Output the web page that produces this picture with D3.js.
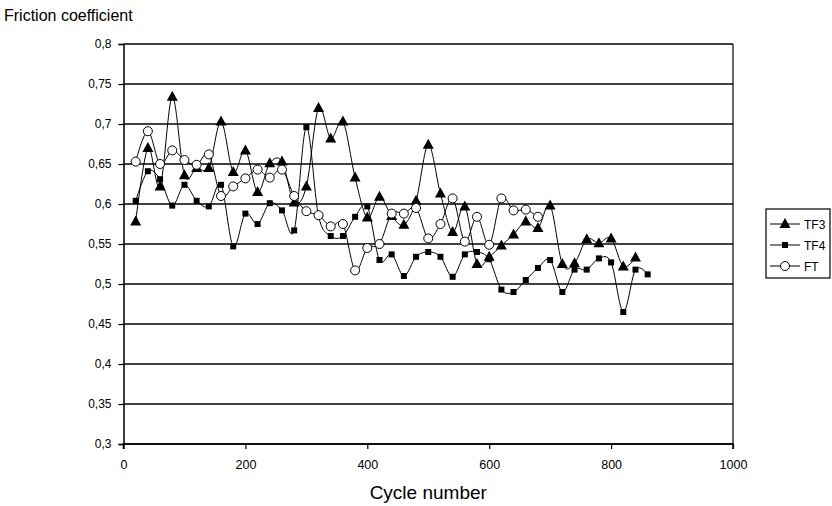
<!DOCTYPE html>
<html>
<head>
<meta charset="utf-8">
<script src="https://cdn.jsdelivr.net/npm/d3@7"></script>
<style>
    body { margin: 0; background: #fff; }
    svg { font-family: "Liberation Sans", Arial, sans-serif; }
</style>
</head>
<body>
<svg id="chart" width="832" height="506"></svg>
<script>

// cycle numbers, one point every 20 cycles
const cyclesTF3 = d3.range(20, 841, 20);
const cyclesTF4 = d3.range(20, 861, 20);
const cyclesFT = d3.range(20, 681, 20);

const valuesTF3 = [
    0.578, 0.670, 0.622, 0.734, 0.636, 0.645, 0.645, 0.703, 0.640, 0.667,
    0.615, 0.651, 0.653, 0.602, 0.622, 0.720, 0.682, 0.703, 0.633, 0.583,
    0.609, 0.585, 0.574, 0.604, 0.674, 0.613, 0.565, 0.597, 0.525, 0.534,
    0.548, 0.562, 0.578, 0.570, 0.598, 0.525, 0.526, 0.556, 0.551, 0.557,
    0.522, 0.533
];
const valuesTF4 = [
    0.604, 0.641, 0.631, 0.598, 0.624, 0.604, 0.597, 0.624, 0.547, 0.588,
    0.575, 0.601, 0.592, 0.567, 0.696, 0.585, 0.560, 0.560, 0.584, 0.597,
    0.530, 0.537, 0.510, 0.534, 0.540, 0.534, 0.509, 0.537, 0.540, 0.531,
    0.493, 0.490, 0.505, 0.520, 0.530, 0.490, 0.518, 0.518, 0.532, 0.527,
    0.465, 0.518, 0.512
];
const valuesFT = [
    0.653, 0.691, 0.650, 0.667, 0.655, 0.649, 0.662, 0.610, 0.622, 0.632,
    0.643, 0.633, 0.643, 0.610, 0.591, 0.586, 0.572, 0.575, 0.517, 0.545,
    0.550, 0.588, 0.588, 0.595, 0.557, 0.575, 0.607, 0.553, 0.584, 0.549,
    0.607, 0.592, 0.593, 0.584
];

const xTicks = [0, 200, 400, 600, 800, 1000];
const yTicks = [0.3, 0.35, 0.4, 0.45, 0.5, 0.55, 0.6, 0.65, 0.7, 0.75, 0.8];

const series = [
    { name: "TF3", marker: "triangle", xs: cyclesTF3, ys: valuesTF3 },
    { name: "TF4", marker: "square", xs: cyclesTF4, ys: valuesTF4 },
    { name: "FT", marker: "circle", xs: cyclesFT, ys: valuesFT }
];

const svg = d3.select("#chart");
const plot = { left: 123.5, right: 733, top: 44, bottom: 444 };

const x = d3.scaleLinear().domain([0, 1000]).range([plot.left, plot.right]);
const y = d3.scaleLinear().domain([0.3, 0.8]).range([plot.bottom, plot.top]);

const fmt = d => String(+d.toFixed(2)).replace(".", ",");

// gridlines
svg.append("g")
    .selectAll("line")
    .data(yTicks)
    .join("line")
    .attr("x1", plot.left).attr("x2", plot.right)
    .attr("y1", d => y(d)).attr("y2", d => y(d))
    .attr("stroke", "#000").attr("stroke-width", 1.5);

// right border
svg.append("line")
    .attr("x1", plot.right).attr("x2", plot.right)
    .attr("y1", plot.top).attr("y2", plot.bottom)
    .attr("stroke", "#000").attr("stroke-width", 1.2);

// axes
let yAxis = svg.append("g")
    .attr("transform", `translate(${plot.left},0)`)
    .call(d3.axisLeft(y).tickValues(yTicks).tickFormat(fmt).tickSize(5).tickPadding(7));
let xAxis = svg.append("g")
    .attr("transform", `translate(0,${plot.bottom})`)
    .call(d3.axisBottom(x).tickValues(xTicks).tickFormat(d3.format("d")).tickSize(5).tickPadding(11));

[yAxis, xAxis].forEach(a => {
    a.select(".domain").attr("stroke", "#000").attr("stroke-width", 1.5);
    a.selectAll(".tick line").attr("stroke", "#000").attr("stroke-width", 1.2);
    a.selectAll("text").attr("fill", "#000").attr("font-size", 12)
        .attr("font-family", "Liberation Sans, Arial, sans-serif");
});
xAxis.selectAll("text").attr("font-size", 12.5);
xAxis.select(".domain").attr("d", `M${plot.left},5V0H${plot.right}V5`);

// titles
svg.append("text")
    .attr("x", 4).attr("y", 21)
    .attr("font-size", 16)
    .text("Friction coefficient");
svg.append("text")
    .attr("x", (plot.left + plot.right) / 2).attr("y", 499)
    .attr("text-anchor", "middle")
    .attr("font-size", 19)
    .text("Cycle number");

// markers
const drawMarker = (g, kind) => {
    if (kind === "triangle") {
        g.append("path").attr("d", "M0,-6L5.5,4L-5.5,4Z").attr("fill", "#000");
    } else if (kind === "square") {
        g.append("rect").attr("x", -3).attr("y", -3).attr("width", 6).attr("height", 6).attr("fill", "#000");
    } else {
        g.append("circle").attr("r", 4.5).attr("fill", "#fff").attr("stroke", "#000").attr("stroke-width", 1);
    }
};

const line = d3.line()
    .x(d => x(d[0]))
    .y(d => y(d[1]))
    .curve(d3.curveCardinal.tension(0));

series.forEach(s => {
    let pts = s.xs.map((c, i) => [c, s.ys[i]]);
    let g = svg.append("g");
    g.append("path")
        .attr("d", line(pts))
        .attr("fill", "none")
        .attr("stroke", "#000")
        .attr("stroke-width", 1);
    g.selectAll("g")
        .data(pts)
        .join("g")
        .attr("transform", d => `translate(${x(d[0])},${y(d[1])})`)
        .each(function () { drawMarker(d3.select(this), s.marker); });
});

// legend
let legend = svg.append("g").attr("transform", "translate(766,209)");
legend.append("rect")
    .attr("width", 64).attr("height", 69)
    .attr("fill", "#fff").attr("stroke", "#000").attr("stroke-width", 1.2);
series.forEach((s, i) => {
    let row = legend.append("g").attr("transform", `translate(0,${15 + i * 21})`);
    row.append("line").attr("x1", 4).attr("x2", 34).attr("stroke", "#000");
    drawMarker(row.append("g").attr("transform", "translate(19,0)"), s.marker);
    row.append("text").attr("x", 38).attr("y", 4.5).attr("font-size", 12).text(s.name);
});

</script>
</body>
</html>
